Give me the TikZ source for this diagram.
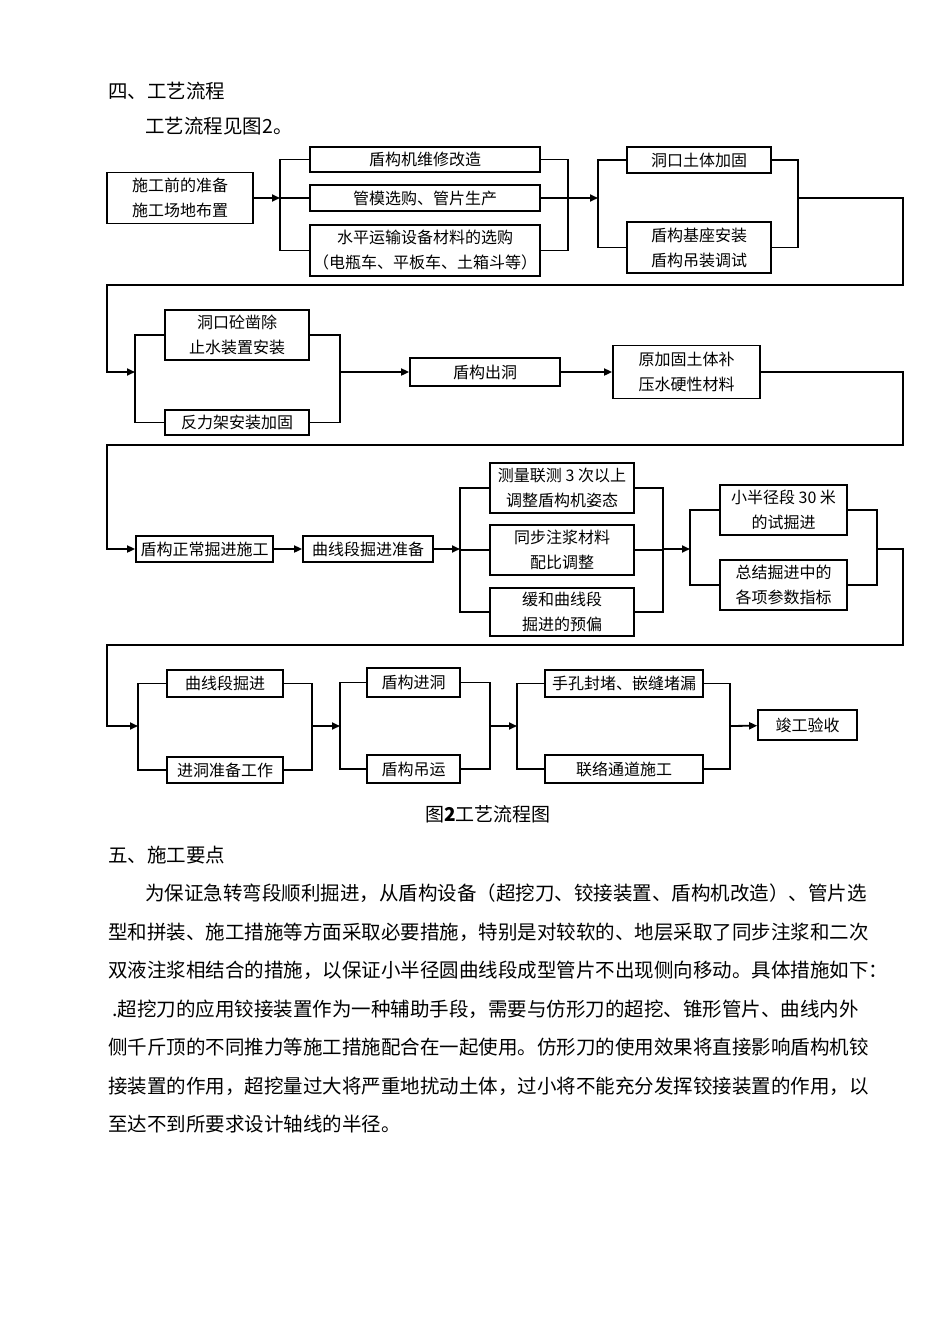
\documentclass[tikz,border=0pt]{standalone}
\usepackage{fontspec}
\setmainfont{Noto Sans CJK SC}
\usetikzlibrary{arrows.meta}
\usetikzlibrary{positioning}

\newcommand{\boxfont}{\fontsize{16}{25}\selectfont}
\newcommand{\bodyfont}{\fontsize{19.5}{30}\selectfont}

\begin{document}
\begin{tikzpicture}[
    x=1pt, y=-1pt,
    box/.style 2 args={draw, line width=1.8pt, minimum width=#1, minimum height=#2, inner sep=1pt, align=center, font=\boxfont},
    link/.style={line width=1.8pt},
    flow/.style={line width=1.8pt, -{Triangle[length=8pt, width=7pt]}},
    para/.style={anchor=west, inner sep=0pt, font=\bodyfont}
]

    % Page
    \path[fill=white, use as bounding box] (0,0) rectangle (950,1344);

    % Headings before the chart
    \node[para] (head4) at (108,91) {四、工艺流程};
    \node[para] (see) at (145,126) {工艺流程见图2。};

    % Rails for the returns between rows
    \coordinate (east) at (903,0);
    \coordinate (west) at (107,0);
    \coordinate (gap1) at (0,285);
    \coordinate (gap2) at (0,445);
    \coordinate (gap3) at (0,645);

    % Row 1: preparation
    \node[box={146pt}{51pt}] (prep) at (180,198) {施工前的准备\\施工场地布置};
    \node[box={230pt}{25pt}] (repair) at (425,159.5) {盾构机维修改造};
    \node[box={230pt}{26pt}] (mould) at (425,198) {管模选购、管片生产};
    \node[box={230pt}{51pt}] (haul) at (425,250.5) {水平运输设备材料的选购\\（电瓶车、平板车、土箱斗等）};
    \node[box={144pt}{26pt}] (soil) at (699,160) {洞口土体加固};
    \node[box={144pt}{51pt}] (base) at (699,247.5) {盾构基座安装\\盾构吊装调试};

    \coordinate (split1) at (280,198);
    \coordinate (join1) at (568,198);
    \coordinate (split2) at (598,198);
    \coordinate (join2) at (798,198);

    \draw[flow] (prep) -- (split1);
    \draw[link] (repair.west) -- (split1 |- repair) -- (split1 |- haul) -- (haul.west);
    \draw[link] (mould.west) -- (split1 |- mould);
    \draw[link] (repair.east) -- (join1 |- repair) -- (join1 |- haul) -- (haul.east);
    \draw[link] (mould.east) -- (join1 |- mould);
    \draw[flow] (join1) -- (split2);
    \draw[link] (soil.west) -- (split2 |- soil) -- (split2 |- base) -- (base.west);
    \draw[link] (soil.east) -- (join2 |- soil) -- (join2 |- base) -- (base.east);

    % Row 2: breaking out
    \node[box={144pt}{50pt}] (chisel) at (237,335) {洞口砼凿除\\止水装置安装};
    \node[box={144pt}{25pt}] (frame) at (237,422.5) {反力架安装加固};
    \node[box={150pt}{28pt}] (exit) at (485,372) {盾构出洞};
    \node[box={147pt}{53pt}] (grout) at (686.5,372) {原加固土体补\\压水硬性材料};

    \coordinate (split3) at (135,372);
    \coordinate (join3) at (340,372);

    \draw[flow] (join2) -- (join2 -| east) -- (east |- gap1) -- (west |- gap1) -- (west |- split3) -- (split3);
    \draw[link] (chisel.west) -- (split3 |- chisel) -- (split3 |- frame) -- (frame.west);
    \draw[link] (chisel.east) -- (join3 |- chisel) -- (join3 |- frame) -- (frame.east);
    \draw[flow] (join3) -- (exit);
    \draw[flow] (exit) -- (grout);

    % Row 3: curve section
    \node[box={137pt}{26pt}] (drive) at (204.5,549) {盾构正常掘进施工};
    \node[box={130pt}{26pt}] (curveprep) at (368,549) {曲线段掘进准备};
    \node[box={144pt}{50pt}] (survey) at (562,488) {测量联测 3 次以上\\调整盾构机姿态};
    \node[box={144pt}{50pt}] (mix) at (562,550) {同步注浆材料\\配比调整};
    \node[box={144pt}{48pt}] (preset) at (562,612) {缓和曲线段\\掘进的预偏};
    \node[box={127pt}{50pt}] (trial) at (783.5,510) {小半径段 30 米\\的试掘进};
    \node[box={127pt}{50pt}] (summary) at (783.5,585) {总结掘进中的\\各项参数指标};

    \coordinate (split4) at (460,549);
    \coordinate (join4) at (663,549);
    \coordinate (split5) at (690,549);
    \coordinate (join5) at (877,549);

    \draw[flow] (grout) -- (grout -| east) -- (east |- gap2) -- (west |- gap2) -- (west |- drive) -- (drive);
    \draw[flow] (drive) -- (curveprep);
    \draw[flow] (curveprep) -- (split4);
    \draw[link] (survey.west) -- (split4 |- survey) -- (split4 |- preset) -- (preset.west);
    \draw[link] (mix.west) -- (split4 |- mix);
    \draw[link] (survey.east) -- (join4 |- survey) -- (join4 |- preset) -- (preset.east);
    \draw[link] (mix.east) -- (join4 |- mix);
    \draw[flow] (join4) -- (split5);
    \draw[link] (trial.west) -- (split5 |- trial) -- (split5 |- summary) -- (summary.west);
    \draw[link] (trial.east) -- (join5 |- trial) -- (join5 |- summary) -- (summary.east);

    % Row 4: entering and finishing
    \node[box={116pt}{27pt}] (curvedrive) at (225,683.5) {曲线段掘进};
    \node[box={116pt}{26pt}] (entryprep) at (225,770) {进洞准备工作};
    \node[box={93pt}{29pt}] (entry) at (413.5,682.5) {盾构进洞};
    \node[box={93pt}{28pt}] (lift) at (413.5,769) {盾构吊运};
    \node[box={158pt}{27pt}] (seal) at (624,683.5) {手孔封堵、嵌缝堵漏};
    \node[box={158pt}{28pt}] (passage) at (624,769) {联络通道施工};
    \node[box={99pt}{30pt}] (accept) at (807.5,725) {竣工验收};

    \coordinate (split6) at (138,726);
    \coordinate (join6) at (312,726);
    \coordinate (split7) at (340,726);
    \coordinate (join7) at (490,726);
    \coordinate (split8) at (517,726);
    \coordinate (join8) at (730,726);

    \draw[flow] (join5) -- (join5 -| east) -- (east |- gap3) -- (west |- gap3) -- (west |- split6) -- (split6);
    \draw[link] (curvedrive.west) -- (split6 |- curvedrive) -- (split6 |- entryprep) -- (entryprep.west);
    \draw[link] (curvedrive.east) -- (join6 |- curvedrive) -- (join6 |- entryprep) -- (entryprep.east);
    \draw[flow] (join6) -- (split7);
    \draw[link] (entry.west) -- (split7 |- entry) -- (split7 |- lift) -- (lift.west);
    \draw[link] (entry.east) -- (join7 |- entry) -- (join7 |- lift) -- (lift.east);
    \draw[flow] (join7) -- (split8);
    \draw[link] (seal.west) -- (split8 |- seal) -- (split8 |- passage) -- (passage.west);
    \draw[link] (seal.east) -- (join8 |- seal) -- (join8 |- passage) -- (passage.east);
    \draw[flow] (join8) -- (accept);

    % Caption
    \node[font=\fontsize{19}{24}\selectfont, inner sep=0pt] (caption) at (488,814) {图\textbf{2}工艺流程图};

    % Text after the chart
    \node[para] (head5) at (108,855) {五、施工要点};
    \node[para] (line1) at (145,893) {为保证急转弯段顺利掘进，从盾构设备（超挖刀、铰接装置、盾构机改造）、管片选};
    \node[para] (line2) at (108,932) {型和拼装、施工措施等方面采取必要措施，特别是对较软的、地层采取了同步注浆和二次};
    \node[para] (line3) at (108,970) {双液注浆相结合的措施，以保证小半径圆曲线段成型管片不出现侧向移动。具体措施如下：};
    \node[para] (line4) at (112,1009) {.超挖刀的应用铰接装置作为一种辅助手段，需要与仿形刀的超挖、锥形管片、曲线内外};
    \node[para] (line5) at (108,1047) {侧千斤顶的不同推力等施工措施配合在一起使用。仿形刀的使用效果将直接影响盾构机铰};
    \node[para] (line6) at (108,1086) {接装置的作用，超挖量过大将严重地扰动土体，过小将不能充分发挥铰接装置的作用，以};
    \node[para] (line7) at (108,1124) {至达不到所要求设计轴线的半径。};

\end{tikzpicture}
\end{document}
